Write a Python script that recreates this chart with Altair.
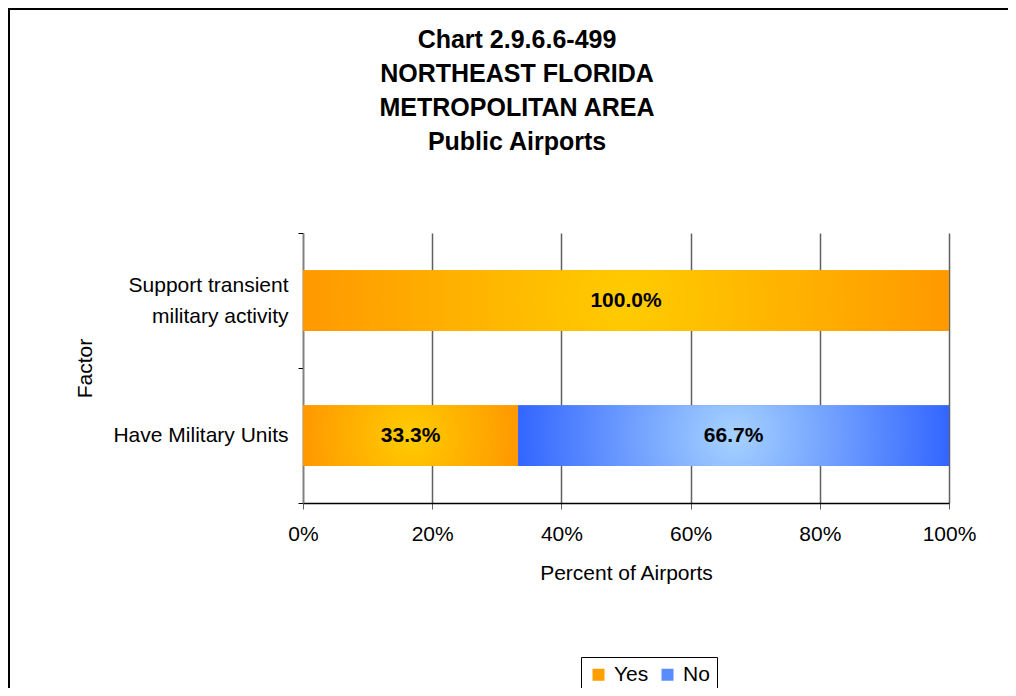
import altair as alt
import pandas as pd

factors = ["Support transient military activity", "Have Military Units"]
yes_pct = [100.0, 33.3]
no_pct = [0.0, 66.7]
responses = ["Yes", "No"]
x_ticks = [0, 20, 40, 60, 80, 100]
title_lines = ["Chart 2.9.6.6-499", "NORTHEAST FLORIDA", "METROPOLITAN AREA", "Public Airports"]

rows = []
for f, y, n in zip(factors, yes_pct, no_pct):
    rows.append(dict(factor=f, response="Yes", start=0.0, end=y, value=y))
    rows.append(dict(factor=f, response="No", start=y, end=y + n, value=n))
df = pd.DataFrame(rows)
df = df[df.value > 0].reset_index(drop=True)
df["label"] = df.value.map(lambda v: f"{v:.1f}%")
df["mid"] = (df.start + df.end) / 2

FONT = "Liberation Sans"
FS = 21
W, H = 646, 270
PL, PT = 295, 225

y_enc = alt.Y(
    "factor:N",
    sort=factors,
    scale=alt.Scale(paddingInner=0, paddingOuter=0),
    axis=alt.Axis(
        title="Factor",
        tickBand="extent",
        labelExpr="datum.value == 'Support transient military activity' ? ['Support transient', 'military activity'] : datum.value",
        labelOffset={"condition": {"test": "datum.value == 'Support transient military activity'",
                                   "value": -15.5}, "value": 0},
        labelFont=FONT, labelFontSize=FS, labelColor="black", labelLineHeight=31,
        labelPadding=10, tickSize=5, tickColor="black",
        domainColor="#808080", domainWidth=1.5,
        titleFont=FONT, titleFontSize=FS, titleFontWeight="normal", titleColor="black",
        titlePadding=17, grid=False,
    ),
)
x_enc = alt.X(
    "start:Q",
    scale=alt.Scale(domain=[0, 100], nice=False),
    axis=alt.Axis(
        title="Percent of Airports",
        values=x_ticks,
        labelExpr="datum.value + '%'",
        labelFlush=False,
        labelFont=FONT, labelFontSize=FS, labelColor="black", labelPadding=14,
        tickSize=6, tickColor="#606060", domainColor="black", domainWidth=1.5,
        grid=True, gridColor="#606060", gridWidth=1.5,
        titleFont=FONT, titleFontSize=FS, titleFontWeight="normal", titleColor="black",
        titlePadding=18,
    ),
)

base = alt.Chart(df)
BAR_H = alt.RelativeBandSize(band=0.45)

legend_bars = base.mark_bar(height=BAR_H).encode(
    x=x_enc, x2="end:Q", y=y_enc,
    color=alt.Color(
        "response:N",
        scale=alt.Scale(domain=responses, range=["#FF9F00", "#5A8CFF"]),
        legend=alt.Legend(
            title=None, orient="none", direction="horizontal",
            legendX=278, legendY=424,
            symbolType="square", symbolSize=144, symbolStrokeWidth=0,
            labelFont=FONT, labelFontSize=FS, labelColor="black",
            strokeColor="black", padding=7, columnPadding=8, labelOffset=5,
        ),
    ),
)

def grad(center, edge):
    return alt.RadialGradient(
        gradient="radial", x1=0.5, y1=0.5, r1=0, x2=0.5, y2=0.5, r2=0.5,
        stops=[alt.GradientStop(offset=0, color=center),
               alt.GradientStop(offset=1, color=edge)],
    )

yes_bars = base.transform_filter("datum.response == 'Yes'").mark_bar(
    fill=grad("#FFCC00", "#FF9900"), height=BAR_H
).encode(x="start:Q", x2="end:Q", y=alt.Y("factor:N", sort=factors))

no_bars = base.transform_filter("datum.response == 'No'").mark_bar(
    fill=grad("#A6D2FF", "#3366FF"), height=BAR_H
).encode(x="start:Q", x2="end:Q", y=alt.Y("factor:N", sort=factors))

labels = base.mark_text(
    font=FONT, fontSize=FS, fontWeight="bold", color="black"
).encode(x="mid:Q", y=alt.Y("factor:N", sort=factors), text="label:N")

one = pd.DataFrame({"a": [0]})

frame = alt.Chart(one).mark_rect(
    fill=None, stroke="black", strokeWidth=2
).encode(
    x=alt.value(-PL + 1), x2=alt.value(W + 200),
    y=alt.value(-PT + 1), y2=alt.value(H + 300),
)

title = alt.Chart(one).mark_text(
    font=FONT, fontSize=25, fontWeight="bold", color="black",
    align="center", baseline="alphabetic", lineHeight=34,
).encode(
    x=alt.value(214), y=alt.value(-185), text=alt.value(title_lines),
)

chart = alt.layer(legend_bars, yes_bars, no_bars, labels, title, frame).properties(
    width=W, height=H,
    autosize=alt.AutoSizeParams(type="none"),
    padding={"left": PL, "top": PT, "right": 1000 - PL - W, "bottom": 680 - PT - H},
).configure_view(stroke=None)

chart.save("out.html", embed_options={"renderer": "svg", "actions": False})
